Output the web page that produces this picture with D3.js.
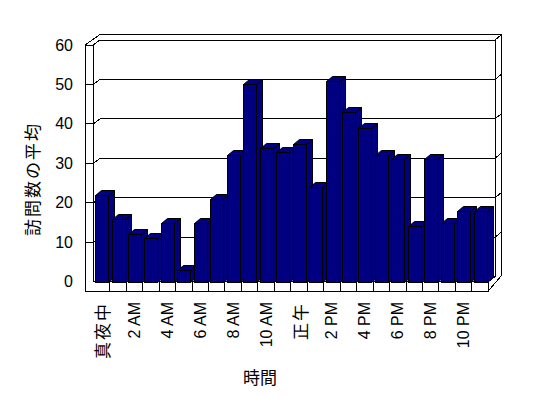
<!DOCTYPE html>
<html>
<head>
<meta charset="utf-8">
<script src="https://cdnjs.cloudflare.com/ajax/libs/d3/7.8.5/d3.min.js"></script>
<style>
  html, body { margin: 0; padding: 0; background: #fff; }
  svg { display: block; }
  text { font-family: "Liberation Sans", "Noto Sans CJK JP", sans-serif; fill: #000; }
  .jp { font-family: "Noto Sans CJK JP", sans-serif; }
</style>
</head>
<body>
<div id="chart"></div>
<script>
// hourly categories (only every second label is shown on the axis)
var categories = ["真夜中", "1 AM", "2 AM", "3 AM", "4 AM", "5 AM", "6 AM", "7 AM", "8 AM", "9 AM", "10 AM", "11 AM",
                  "正午", "1 PM", "2 PM", "3 PM", "4 PM", "5 PM", "6 PM", "7 PM", "8 PM", "9 PM", "10 PM", "11 PM"];
var visits = [22, 16, 12, 11, 15, 3, 15, 21, 32, 50, 34, 33,
              35, 24, 51, 43, 39, 32, 31, 14, 31, 15, 18, 18];
var yTicks = [0, 10, 20, 30, 40, 50, 60];
var xTitle = "時間";
var yTitle = "訪問数の平均";

var width = 548, height = 398;
var barColor = "#000080";

// front plane of the plot box
var x = d3.scaleBand().domain(categories).range([93.3, 488.3]);
var y = d3.scaleLinear().domain([0, 60]).range([281.7, 45]);

// depth offsets: into the plot, then through the wall
var dx = 6.7, dy = -5;
var wx = 6.7, wy = -5.5;
var wallLeft = 85, floorBottom = 291;
var x0 = x.range()[0], x1 = x.range()[1];
var yTop = y(60), yBase = y(0);

var svg = d3.select("#chart").append("svg")
  .attr("width", width)
  .attr("height", height)
  .style("shape-rendering", "crispEdges");

var box = svg.append("g")
  .attr("fill", "none")
  .attr("stroke", "#000")
  .attr("stroke-width", 1);

var line = d3.line();

// outline of walls + floor
box.append("path")
  .attr("fill", "#fff")
  .attr("d", line([
    [wallLeft, floorBottom], [wallLeft, yTop], [x0 + dx, yTop + dy + wy],
    [x1 + dx + wx, yTop + dy + wy], [x1 + dx + wx, yBase + dy + wy + 4],
    [x1, floorBottom]
  ]) + "Z");

// left wall front edge, back wall inner edge
box.append("path").attr("d", line([[x0, yBase], [x0, yTop], [x0 + dx, yTop + dy], [x1 + dx, yTop + dy],
  [x1 + dx, yBase + dy], [x1, yBase]]));
box.append("path").attr("d", line([[wallLeft, yTop], [x0, yTop]]));
box.append("path").attr("d", line([[x1 + dx, yTop + dy], [x1 + dx + wx, yTop + dy + wy]]));

// floor front
box.append("path").attr("d", line([[x0, yBase], [x1, yBase]]));
box.append("path").attr("d", line([[wallLeft, floorBottom], [x1, floorBottom]]));

// gridlines across left wall, back wall and right edge
yTicks.filter(function(v) { return v > 0 && v < 60; }).forEach(function(v) {
  var yy = y(v);
  box.append("path").attr("d", line([[wallLeft, yy], [x0, yy], [x0 + dx, yy + dy],
    [x1 + dx, yy + dy], [x1 + dx + wx, yy + dy + wy]]));
});

// floor tick marks between categories
var bounds = categories.slice(1).map(function(c) { return x(c); }).concat([x1]);
box.selectAll("line.ftick")
  .data(bounds)
  .enter().append("line")
  .attr("class", "ftick")
  .attr("x1", function(d) { return d; })
  .attr("x2", function(d) { return d; })
  .attr("y1", yBase)
  .attr("y2", floorBottom);

// bars, drawn left to right so the next front face covers the side face
var bw = 13, bOff = 1.8, bdx = 6, bdy = -5;
var bars = svg.append("g")
  .attr("fill", barColor)
  .attr("stroke", "#000")
  .attr("stroke-width", 1)
  .style("shape-rendering", "auto");

categories.forEach(function(c, i) {
  var bx = Math.round(x(c) + bOff) + 0.5;
  var by = Math.round(y(visits[i])) + 0.5;
  var bb = Math.round(yBase) + 0.5;
  var g = bars.append("g");
  // side face
  g.append("path").attr("d", line([[bx + bw, by], [bx + bw + bdx, by + bdy], [bx + bw + bdx, bb + bdy], [bx + bw, bb]]) + "Z");
  // top face
  g.append("path").attr("d", line([[bx, by], [bx + bdx, by + bdy], [bx + bw + bdx, by + bdy], [bx + bw, by]]) + "Z");
  // front face
  g.append("rect")
    .attr("x", bx)
    .attr("y", by)
    .attr("width", bw)
    .attr("height", bb - by);
});

function isLatin(d) { return /[AP]M/.test(d); }

// y tick labels
svg.append("g").selectAll("text")
  .data(yTicks)
  .enter().append("text")
  .attr("x", 73)
  .attr("y", function(d) { return y(d); })
  .attr("fill", "#000")
  .attr("text-anchor", "end")
  .attr("dominant-baseline", "central")
  .style("font-size", "16px")
  .text(function(d) { return d; });

// x tick labels, rotated, every second hour
svg.append("g").selectAll("text")
  .data(categories.filter(function(c, i) { return i % 2 === 0; }))
  .enter().append("text")
  .attr("class", function(d) { return isLatin(d) ? null : "jp"; })
  .attr("fill", "#000")
  .attr("transform", function(d) {
    return "translate(" + (x(d) + x.bandwidth() / 2) + ",302) rotate(-90)";
  })
  .attr("text-anchor", "end")
  .attr("dominant-baseline", "central")
  .style("font-size", function(d) { return isLatin(d) ? "16px" : "17px"; })
  .style("letter-spacing", function(d) { return isLatin(d) ? null : "2px"; })
  .text(function(d) { return d; });

// axis titles
svg.append("text")
  .attr("class", "jp")
  .attr("fill", "#000")
  .attr("x", 260)
  .attr("y", 376)
  .attr("text-anchor", "middle")
  .attr("dominant-baseline", "central")
  .style("font-size", "17px")
  .text(xTitle);

svg.append("text")
  .attr("class", "jp")
  .attr("fill", "#000")
  .attr("transform", "translate(31,179) rotate(-90)")
  .attr("text-anchor", "middle")
  .attr("dominant-baseline", "central")
  .style("font-size", "17px")
  .style("letter-spacing", "2px")
  .text(yTitle);
</script>
</body>
</html>
